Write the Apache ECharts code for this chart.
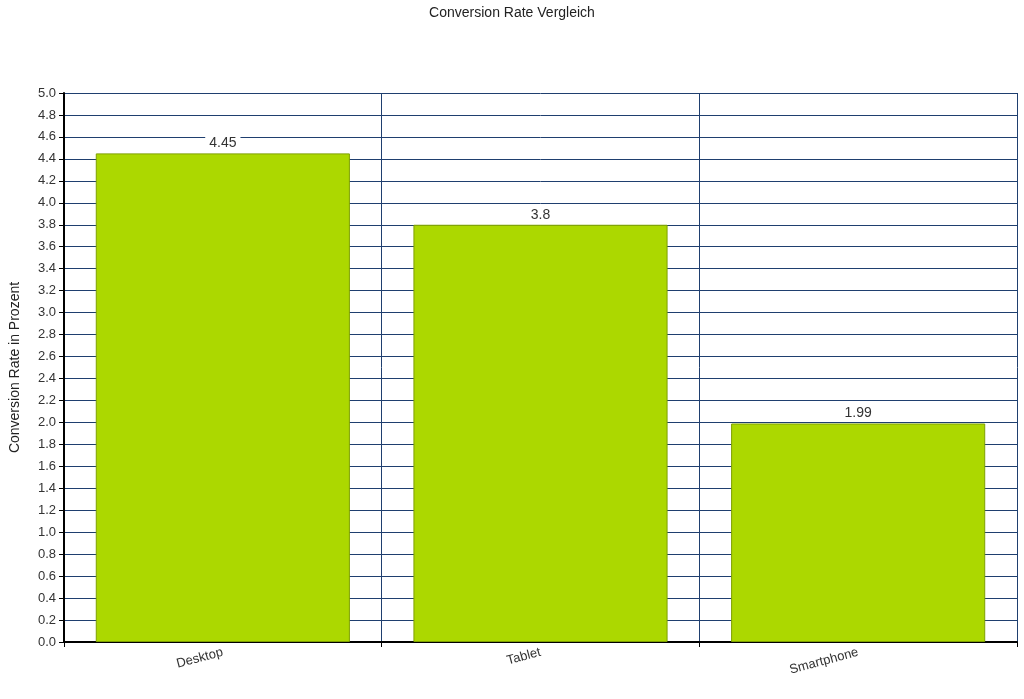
<!DOCTYPE html><html><head><meta charset="utf-8"><script src="https://cdn.jsdelivr.net/npm/echarts@6/dist/echarts.min.js"></script></head><body style="margin:0"><div id="c" style="width:1024px;height:699px"></div><script>
const categories=['Desktop','Tablet','Smartphone'];
const values=[4.45,3.8,1.99];
const c=echarts.init(document.getElementById('c'));
c.setOption({animation:false,
title:{text:'Conversion Rate Vergleich',left:'center',top:1,textStyle:{fontFamily:'Liberation Sans',fontSize:14,fontWeight:'normal',color:'#222'}},
grid:{left:60,right:7,top:93,bottom:57},
xAxis:{type:'category',data:categories,axisLine:{lineStyle:{color:'#000',width:2}},axisTick:{show:true,lineStyle:{color:'#000'}},
axisLabel:{rotate:15,fontFamily:'Liberation Sans',fontSize:13,color:'#333',margin:10},
splitLine:{show:true,lineStyle:{color:'#1f3f6f',width:1}}},
yAxis:{type:'value',min:0,max:5,interval:0.2,name:'Conversion Rate in Prozent',nameLocation:'middle',nameGap:42,nameTextStyle:{fontFamily:'Liberation Sans',fontSize:14,color:'#222'},
axisLine:{show:true,lineStyle:{color:'#000',width:2}},axisTick:{show:true,lineStyle:{color:'#000'}},
axisLabel:{formatter:v=>v.toFixed(1),fontFamily:'Liberation Sans',fontSize:13,color:'#333'},
splitLine:{lineStyle:{color:'#1f3f6f',width:1}}},
series:[{type:'bar',data:values,barCategoryGap:'20%',itemStyle:{color:'#acd800',borderColor:'#7fa000',borderWidth:1},
label:{show:true,position:'top',distance:2,backgroundColor:'#fff',padding:[1,4],fontFamily:'Liberation Sans',fontSize:14,color:'#333'}}]
});
</script></body></html>
